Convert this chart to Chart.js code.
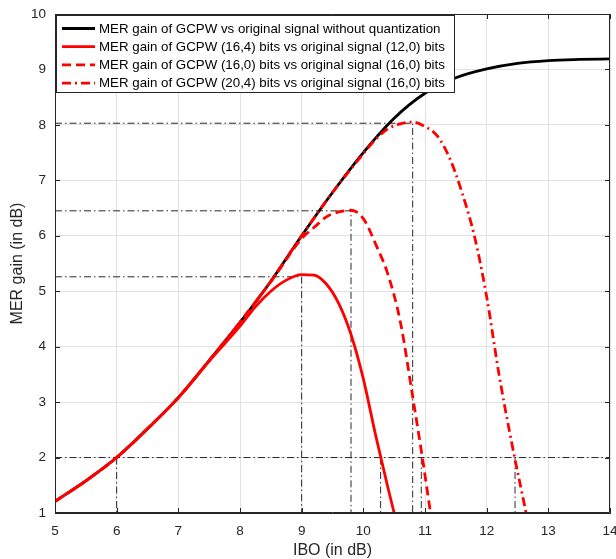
<!DOCTYPE html>
<html>
<head>
<meta charset="utf-8">
<script src="https://cdn.jsdelivr.net/npm/chart.js@4"></script>
<style>
  html, body { margin: 0; padding: 0; background: #fff; }
  #wrap { width: 616px; height: 559px; }
</style>
</head>
<body>
<div id="wrap"><canvas id="myChart" width="616" height="559"></canvas></div>
<script>
// IBO (dB) / MER gain (dB)
const iboFull = [5, 5.5, 6, 6.5, 7, 7.5, 8, 8.5, 9, 9.5, 10, 10.5, 11, 11.5, 12, 12.5, 13, 13.5, 14];
const merFull = [1.21, 1.58, 2.0, 2.52, 3.08, 3.75, 4.44, 5.18, 6.0, 6.78, 7.5, 8.12, 8.57, 8.85, 9.01, 9.11, 9.16, 9.18, 9.19];

const ibo164 = [5, 5.5, 6, 6.5, 7, 7.5, 8, 8.25, 8.5, 8.75, 9, 9.2, 9.4, 9.6, 9.8, 10, 10.2, 10.4, 10.5];
const mer164 = [1.21, 1.58, 2.0, 2.52, 3.08, 3.74, 4.37, 4.72, 5.0, 5.2, 5.3, 5.29, 5.13, 4.78, 4.22, 3.42, 2.4, 1.45, 1.0];

const ibo160 = [5, 5.5, 6, 6.5, 7, 7.5, 8, 8.5, 9, 9.2, 9.4, 9.6, 9.8, 10, 10.2, 10.4, 10.6, 10.8, 10.95, 11.09];
const mer160 = [1.21, 1.58, 2.0, 2.52, 3.08, 3.75, 4.44, 5.17, 5.95, 6.15, 6.34, 6.43, 6.46, 6.31, 5.85, 5.3, 4.45, 3.1, 2.05, 1.0];

const ibo204 = [5, 5.5, 6, 6.5, 7, 7.5, 8, 8.5, 9, 9.5, 10, 10.2, 10.4, 10.6, 10.8, 11, 11.2, 11.4, 11.6, 11.8, 12, 12.2, 12.4, 12.64];
const mer204 = [1.21, 1.58, 2.0, 2.52, 3.08, 3.75, 4.44, 5.18, 6.0, 6.78, 7.48, 7.74, 7.93, 8.02, 8.05, 7.97, 7.8, 7.4, 6.78, 6.0, 4.9, 3.5, 2.3, 1.0];

// dash-dot guide lines
const peakIbo = [9.0, 9.8, 10.8];
const peakMer = [5.26, 6.45, 8.03];
const crossIbo = [6.0, 10.28, 10.94, 12.46];
const crossMer = 2;

const labels = [
  "MER gain of GCPW vs original signal without quantization",
  "MER gain of GCPW (16,4) bits vs original signal (12,0) bits",
  "MER gain of GCPW (16,0) bits vs original signal (16,0) bits",
  "MER gain of GCPW (20,4) bits vs original signal (16,0) bits",
];

const FONT = '"Liberation Sans", Arial, Helvetica, sans-serif';
const AXIS = "#262626";
const DASH = [9, 5];
const DASHDOT = [9, 4, 2, 4];
const GUIDE = [7, 3, 1.5, 3];

function pts(xs, ys) {
  return xs.map((x, i) => ({ x: x, y: ys[i] }));
}

function curve(label, xs, ys, color, dash, order) {
  return {
    label: label,
    data: pts(xs, ys),
    borderColor: color,
    borderWidth: 2.8,
    borderDash: dash,
    showLine: true,
    pointRadius: 0,
    cubicInterpolationMode: "monotone",
    order: order,
  };
}

function guide(data) {
  return {
    label: "",
    data: data,
    borderColor: "#111",
    borderWidth: 0.9,
    borderDash: GUIDE,
    showLine: true,
    pointRadius: 0,
    order: 10,
  };
}

let datasets = [
  curve(labels[0], iboFull, merFull, "#000000", [], 4),
  curve(labels[1], ibo164, mer164, "#ff0000", [], 3),
  curve(labels[2], ibo160, mer160, "#ff0000", DASH, 2),
  curve(labels[3], ibo204, mer204, "#ff0000", DASHDOT, 1),
];
for (let i = 0; i < peakIbo.length; i++) {
  datasets.push(guide([
    { x: 5, y: peakMer[i] },
    { x: peakIbo[i], y: peakMer[i] },
    { x: peakIbo[i], y: 1 },
  ]));
}
datasets.push(guide([{ x: 5, y: crossMer }, { x: 14, y: crossMer }]));
crossIbo.forEach((x) => {
  datasets.push(guide([{ x: x, y: crossMer }, { x: x, y: 1 }]));
});

// box on all sides, inward ticks, legend inside the axes
const matlabFrame = {
  id: "matlabFrame",
  afterDatasetsDraw(chart) {
    const ctx = chart.ctx;
    const a = chart.chartArea;
    const xs = chart.scales.x, ys = chart.scales.y;
    ctx.save();
    ctx.strokeStyle = AXIS;
    ctx.lineWidth = 1;
    ctx.beginPath();
    ctx.rect(a.left + 0.5, a.top + 0.5, a.right - a.left - 1, a.bottom - a.top - 1);
    xs.ticks.forEach((t) => {
      const px = Math.round(xs.getPixelForValue(t.value)) + 0.5;
      ctx.moveTo(px, a.bottom); ctx.lineTo(px, a.bottom - 5);
      ctx.moveTo(px, a.top); ctx.lineTo(px, a.top + 5);
    });
    ys.ticks.forEach((t) => {
      const py = Math.round(ys.getPixelForValue(t.value)) + 0.5;
      ctx.moveTo(a.left, py); ctx.lineTo(a.left + 5, py);
      ctx.moveTo(a.right, py); ctx.lineTo(a.right - 5, py);
    });
    ctx.stroke();
    ctx.restore();
  },
  afterDraw(chart) {
    const ctx = chart.ctx;
    const left = 56.5, top = 15.5, w = 398, h = 77;
    ctx.save();
    ctx.fillStyle = "#fff";
    ctx.fillRect(left, top, w, h);
    ctx.strokeStyle = AXIS;
    ctx.lineWidth = 1;
    ctx.strokeRect(left, top, w, h);
    ctx.font = "13.3px " + FONT;
    ctx.textBaseline = "middle";
    ctx.fillStyle = "#000";
    chart.data.datasets.slice(0, 4).forEach((ds, i) => {
      const y = 28.5 + i * 18.2;
      ctx.beginPath();
      ctx.strokeStyle = ds.borderColor;
      ctx.lineWidth = ds.borderWidth;
      ctx.setLineDash(ds.borderDash);
      ctx.moveTo(62, y);
      ctx.lineTo(95, y);
      ctx.stroke();
      ctx.setLineDash([]);
      ctx.fillText(ds.label, 99, y + 0.5);
    });
    ctx.restore();
  },
};

var chart = new Chart("myChart", {
  type: "scatter",
  data: { datasets: datasets },
  plugins: [matlabFrame],
  options: {
    responsive: false,
    animation: false,
    layout: { padding: { top: 14, right: 6, left: 0, bottom: 0 } },
    plugins: {
      legend: { display: false },
      tooltip: { enabled: false },
    },
    scales: {
      x: {
        type: "linear",
        min: 5,
        max: 14,
        afterFit(scale) {
          scale.height = 46;
          scale.paddingLeft = 0;
          scale.paddingRight = 0;
        },
        ticks: { stepSize: 1, color: AXIS, padding: 10, font: { family: FONT, size: 13.5 } },
        grid: { color: "#e2e2e2", drawTicks: false },
        border: { color: AXIS },
        title: {
          display: true,
          text: "IBO (in dB)",
          color: AXIS,
          padding: { top: 0, bottom: 0 },
          font: { family: FONT, size: 16, lineHeight: 1 },
        },
      },
      y: {
        min: 1,
        max: 10,
        afterFit(scale) {
          scale.width = 55;
          scale.paddingTop = 0;
          scale.paddingBottom = 0;
        },
        ticks: { stepSize: 1, color: AXIS, padding: 9, font: { family: FONT, size: 13.5 } },
        grid: { color: "#e2e2e2", drawTicks: false },
        border: { color: AXIS },
        title: {
          display: true,
          text: "MER gain (in dB)",
          color: AXIS,
          padding: { top: 10, bottom: 0 },
          font: { family: FONT, size: 16, lineHeight: 1 },
        },
      },
    },
  },
});
</script>
</body>
</html>
